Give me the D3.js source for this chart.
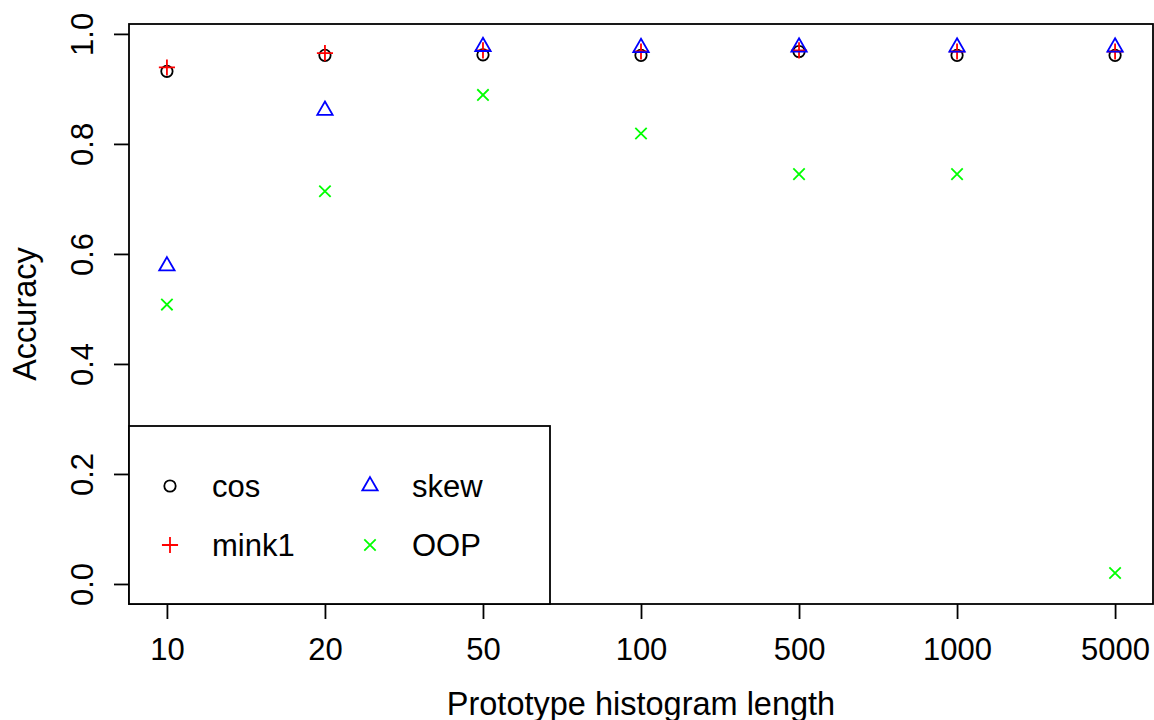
<!DOCTYPE html>
<html>
<head>
<meta charset="utf-8">
<script src="https://cdn.jsdelivr.net/npm/d3@7"></script>
<style>
  body { margin: 0; background: #fff; }
  svg text { font-family: "Liberation Sans", Arial, Helvetica, sans-serif; fill: #000; }
</style>
</head>
<body>
<svg id="chart" width="1154" height="720"></svg>
<script>
// Data
const categories = ["10", "20", "50", "100", "500", "1000", "5000"];
const cosVals   = [0.932, 0.961, 0.962, 0.961, 0.968, 0.961, 0.961];
const mink1Vals = [0.939, 0.965, 0.970, 0.968, 0.970, 0.968, 0.968];
const skewVals  = [0.578, 0.861, 0.977, 0.975, 0.976, 0.976, 0.976];
const oopVals   = [0.508, 0.714, 0.889, 0.819, 0.745, 0.745, 0.020];
const yTicks = [0, 0.2, 0.4, 0.6, 0.8, 1.0];

const series = [
    { name: "cos",   values: cosVals,   color: "#000000", shape: "circle" },
    { name: "mink1", values: mink1Vals, color: "#ff0000", shape: "plus" },
    { name: "skew",  values: skewVals,  color: "#0000ff", shape: "triangle" },
    { name: "OOP",   values: oopVals,   color: "#00ff00", shape: "cross" }
];

const svg = d3.select("#chart");
const plot = { left: 129, right: 1153, top: 24, bottom: 604 };
const fontSize = 31;
const titleSize = 32.5;
const lw = 1.8;

const x = d3.scalePoint()
    .domain(categories)
    .range([plot.left, plot.right])
    .padding(0.24);

const y = d3.scaleLinear()
    .domain([-0.0364, 1.018])
    .range([plot.bottom, plot.top]);

// R-style point symbols
const R = 5.7;
function drawSymbol(g, shape, cx, cy, color) {
    if (shape === "circle") {
        g.append("circle").attr("cx", cx).attr("cy", cy).attr("r", R)
            .attr("fill", "none").attr("stroke", color).attr("stroke-width", lw);
    } else if (shape === "plus") {
        const s = R * Math.SQRT2;
        g.append("path")
            .attr("d", `M${cx - s},${cy}H${cx + s}M${cx},${cy - s}V${cy + s}`)
            .attr("stroke", color).attr("stroke-width", lw).attr("fill", "none");
    } else if (shape === "triangle") {
        const r = 1.5551 * R, xc = 1.3468 * R, yc = 0.7776 * R;
        g.append("path")
            .attr("d", `M${cx},${cy - r}L${cx + xc},${cy + yc}L${cx - xc},${cy + yc}Z`)
            .attr("stroke", color).attr("stroke-width", lw).attr("fill", "none");
    } else if (shape === "cross") {
        g.append("path")
            .attr("d", `M${cx - R},${cy - R}L${cx + R},${cy + R}M${cx - R},${cy + R}L${cx + R},${cy - R}`)
            .attr("stroke", color).attr("stroke-width", lw).attr("fill", "none");
    }
}

// points
const pts = svg.append("g");
series.forEach(s => {
    s.values.forEach((v, i) => {
        drawSymbol(pts, s.shape, x(categories[i]), y(v), s.color);
    });
});

// x axis
const xAxis = svg.append("g")
    .attr("transform", `translate(0,${plot.bottom})`)
    .call(d3.axisBottom(x).tickSize(15).tickSizeOuter(0).tickPadding(0));
xAxis.select(".domain").remove();
xAxis.selectAll("line").attr("stroke", "#000").attr("stroke-width", lw);
xAxis.selectAll("text")
    .attr("font-size", fontSize)
    .attr("dy", null)
    .attr("y", 56);

// y axis
const yAxis = svg.append("g")
    .attr("transform", `translate(${plot.left},0)`)
    .call(d3.axisLeft(y).tickValues(yTicks).tickFormat(d3.format(".1f")).tickSize(15).tickSizeOuter(0));
yAxis.select(".domain").remove();
yAxis.selectAll("line").attr("stroke", "#000").attr("stroke-width", lw);
yAxis.selectAll("text")
    .attr("font-size", fontSize)
    .attr("text-anchor", "middle")
    .attr("x", null).attr("dy", null)
    .attr("transform", "translate(-36,0) rotate(-90)");

// box
svg.append("rect")
    .attr("x", plot.left).attr("y", plot.top)
    .attr("width", plot.right - plot.left).attr("height", plot.bottom - plot.top)
    .attr("fill", "none").attr("stroke", "#000").attr("stroke-width", lw);

// axis titles
svg.append("text")
    .attr("x", (plot.left + plot.right) / 2).attr("y", 715)
    .attr("text-anchor", "middle").attr("font-size", titleSize)
    .text("Prototype histogram length");

svg.append("text")
    .attr("transform", `translate(36,${(plot.top + plot.bottom) / 2}) rotate(-90)`)
    .attr("text-anchor", "middle").attr("font-size", titleSize)
    .text("Accuracy");

// legend (bottom left, two columns)
const legend = svg.append("g");
legend.append("rect")
    .attr("x", plot.left).attr("y", 426)
    .attr("width", 550 - plot.left).attr("height", plot.bottom - 426)
    .attr("fill", "#fff").attr("stroke", "#000").attr("stroke-width", lw);

const legCols = [170, 370];
const legRows = [486, 545];
series.forEach((s, i) => {
    const cx = legCols[Math.floor(i / 2)];
    const cy = legRows[i % 2];
    drawSymbol(legend, s.shape, cx, cy, s.color);
    legend.append("text")
        .attr("x", cx + 42).attr("y", cy + 11)
        .attr("font-size", fontSize)
        .text(s.name);
});
</script>
</body>
</html>
